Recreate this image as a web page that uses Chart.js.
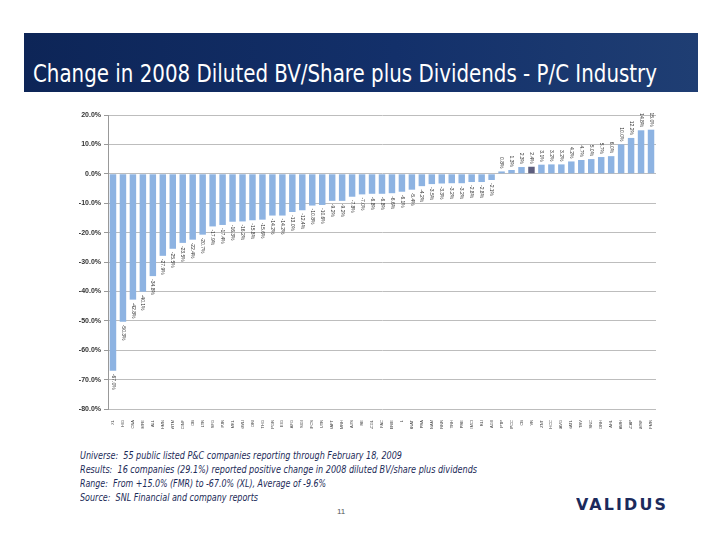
<!DOCTYPE html>
<html><head><meta charset="utf-8">
<script src="https://cdn.jsdelivr.net/npm/chart.js@4"></script>
<style>
body{margin:0;width:720px;height:556px;background:#fff;position:relative;overflow:hidden;font-family:"DejaVu Sans Condensed","DejaVu Sans",sans-serif}
#banner{position:absolute;left:24px;top:33px;width:674px;height:59px;background:linear-gradient(90deg,#0d2557 0%,#13306a 55%,#1f3e73 100%)}
#title{position:absolute;left:33px;top:60px;color:#fff;font-size:24px;line-height:28px;white-space:nowrap;transform-origin:0 0}
.foot{position:absolute;left:80px;font-style:italic;font-size:10px;line-height:12px;color:#1c2b58;white-space:nowrap;transform-origin:0 0}
#page{position:absolute;left:337px;top:507px;font-size:8px;color:#555;font-family:"Liberation Sans",Arial,sans-serif}
#logo{position:absolute;left:576px;top:497px;font-family:"DejaVu Sans",sans-serif;font-weight:bold;font-size:15px;line-height:16px;color:#1b2a5c;letter-spacing:2px;white-space:nowrap;transform-origin:0 0}
#c{position:absolute;left:40px;top:100px}
</style></head>
<body>
<div id="banner"></div>
<div id="title" data-w="624">Change in 2008 Diluted BV/Share plus Dividends - P/C Industry</div>
<canvas id="c" width="640" height="329"></canvas>
<div class="foot" style="top:450px" data-w="322">Universe:&nbsp; 55 public listed P&amp;C companies reporting through February 18, 2009</div>
<div class="foot" style="top:464px" data-w="397">Results:&nbsp; 16 companies (29.1%) reported positive change in 2008 diluted BV/share plus dividends</div>
<div class="foot" style="top:478px" data-w="246">Range:&nbsp; From +15.0% (FMR) to -67.0% (XL), Average of -9.6%</div>
<div class="foot" style="top:492px" data-w="178">Source:&nbsp; SNL Financial and company reports</div>
<div id="page">11</div>
<div id="logo" data-w="92">VALIDUS</div>
<script>
// ---- data ----
const companies = ["XL","HIG","CNA","MFE","ALL","HMN","WTM","CINF","OB","LTR","SFG","PJR","MKL","NWLI","ORI","THG","PGR","EIG","AFG","SIGI","UFCS","UTR","SAFT","MRH","AXS","RE","ACGL","FAC","ERIE","L","ANAT","PRA","UNAM","RNR","TRH","PRE","EMCI","RLI","AGII","PTP","IPCC","CB","VR","ZNT","HCC","NAVG","NATL","TRV","SNC","ORH","AHL","AWH","ACAP","AMSF","FMR"];
const changePct = [-67.0,-50.3,-42.8,-40.1,-34.8,-27.9,-25.5,-23.5,-22.4,-20.7,-17.9,-17.4,-16.3,-16.2,-15.8,-15.6,-14.2,-14.2,-13.0,-12.4,-10.8,-10.6,-9.2,-9.2,-7.8,-7.0,-6.8,-6.8,-6.6,-6.1,-5.4,-4.2,-3.5,-3.3,-3.2,-3.2,-2.8,-2.8,-2.1,0.8,1.3,2.3,2.4,3.1,3.2,3.2,4.2,4.7,5.0,5.7,6.0,10.0,12.2,14.8,15.0];
const highlight = "VR";
const yTicks = [20,10,0,-10,-20,-30,-40,-50,-60,-70,-80];

// fit text widths
document.querySelectorAll('[data-w]').forEach(el=>{
  const w = el.getBoundingClientRect().width;
  el.style.transform = 'scaleX(' + (parseFloat(el.dataset.w)/w) + ')';
});

const labelPlugin = {
  id:'barLabels',
  afterDatasetsDraw(chart){
    const ctx = chart.ctx;
    const meta = chart.getDatasetMeta(0);
    ctx.save();
    ctx.font = '5px "Liberation Sans", Arial, sans-serif';
    ctx.fillStyle = '#333';
    ctx.textBaseline = 'middle';
    meta.data.forEach((bar,i)=>{
      const v = changePct[i];
      ctx.save();
      ctx.translate(bar.x, v < 0 ? bar.y + 3 : bar.y - 3);
      ctx.rotate(Math.PI/2);
      ctx.textAlign = v < 0 ? 'left' : 'right';
      ctx.fillText(v.toFixed(1) + '%', 0, 0);
      ctx.restore();
    });
    ctx.restore();
  }
};

new Chart(document.getElementById('c'), {
  type:'bar',
  data:{
    labels: companies,
    datasets:[{
      data: changePct,
      backgroundColor: companies.map(c => c === highlight ? '#5d5e7e' : '#8db3e2'),
      borderWidth:0,
      barPercentage:0.65,
      categoryPercentage:1.0
    }]
  },
  options:{
    responsive:false,
    animation:false,
    layout:{padding:{top:15,right:24,left:0,bottom:0}},
    plugins:{legend:{display:false},tooltip:{enabled:false}},
    scales:{
      x:{
        grid:{display:false},
        border:{display:false},
        ticks:{autoSkip:false,maxRotation:90,minRotation:90,font:{size:4,family:'"Liberation Sans", Arial, sans-serif'},color:'#444',padding:3},
        afterFit(s){ s.height = 20; }
      },
      y:{
        min:-80,max:20,
        afterBuildTicks(s){ s.ticks = yTicks.map(v=>({value:v})); },
        ticks:{callback:v=>v.toFixed(1)+'%',font:{size:7,weight:'bold',family:'"Liberation Sans", Arial, sans-serif'},color:'#333',padding:3},
        grid:{color:'#bdbdbd',lineWidth:1,tickLength:4,tickColor:'#999'},
        border:{color:'#999',width:1},
        afterFit(s){ s.width = 68; }
      }
    }
  },
  plugins:[labelPlugin]
});
</script>
</body></html>
